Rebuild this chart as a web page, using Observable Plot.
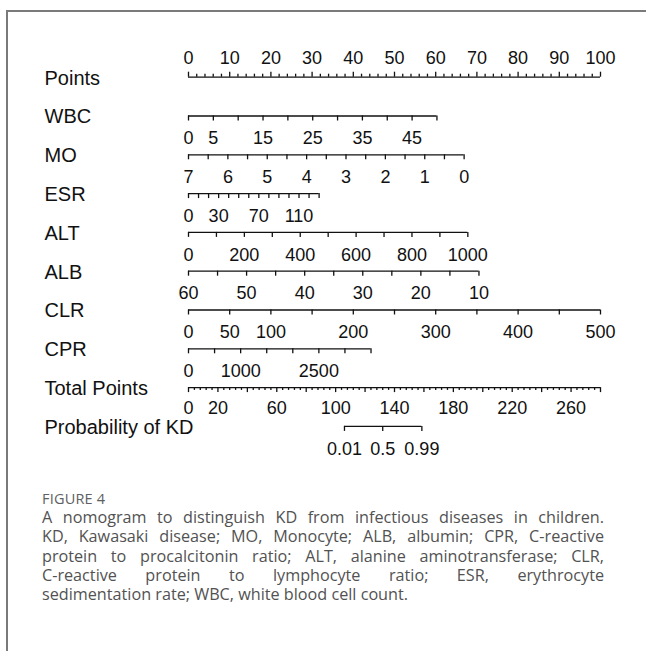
<!DOCTYPE html>
<html>
<head>
<meta charset="utf-8">
<script src="https://cdn.jsdelivr.net/npm/d3@7"></script>
<script src="https://cdn.jsdelivr.net/npm/@observablehq/plot@0.6"></script>
<style>
  html, body { margin: 0; padding: 0; background: #fff; }
  body { width: 646px; height: 651px; position: relative; overflow: hidden; }
  #chart svg { display: block; }
  .frame-top { position: absolute; left: 6px; top: 10px; width: 640px; height: 1.5px; background: #7a7a7a; }
  .frame-left { position: absolute; left: 6px; top: 10px; width: 1.5px; height: 641px; background: #7a7a7a; }
  .caption { margin-left: 42px; width: 562px; font-family: "Open Sans", sans-serif; color: #525252; }
  .caption .fig { font-size: 14.5px; line-height: 18px; margin-top: 20px; color: #606060; letter-spacing: 0.2px; }
  .caption .line { font-size: 16.2px; line-height: 19.3px; text-align: justify; text-align-last: justify; white-space: nowrap; }
  .caption .line:first-of-type { margin-top: 0.5px; }
  .caption .line.last { text-align-last: left; }
</style>
</head>
<body>
<div id="chart"></div>
<div class="caption">
  <div class="fig">FIGURE 4</div>
  <div class="line">A nomogram to distinguish KD from infectious diseases in children.</div>
  <div class="line">KD, Kawasaki disease; MO, Monocyte; ALB, albumin; CPR, C-reactive</div>
  <div class="line">protein to procalcitonin ratio; ALT, alanine aminotransferase; CLR,</div>
  <div class="line">C-reactive protein to lymphocyte ratio; ESR, erythrocyte</div>
  <div class="line last">sedimentation rate; WBC, white blood cell count.</div>
</div>
<div class="frame-top"></div>
<div class="frame-left"></div>
<script>
// Row names, top to bottom
const rowNames = ["Points", "WBC", "MO", "ESR", "ALT", "ALB", "CLR", "CPR", "Total Points", "Probability of KD"];

// Points scale (0–100)
const pointsDomain = [0, 100];
const pointsMajorTicks = [0, 10, 20, 30, 40, 50, 60, 70, 80, 90, 100];
const pointsLabels = [0, 10, 20, 30, 40, 50, 60, 70, 80, 90, 100];
const pointsMinorStep = 2;

// Predictors: value range, points at the two ends of that range, ticks, labels
const wbcDomain = [0, 50];
const wbcPoints = [0, 60.3];
const wbcTicks = [0, 5, 10, 15, 20, 25, 30, 35, 40, 45, 50];
const wbcLabels = [0, 5, 15, 25, 35, 45];

const moDomain = [7, 0];
const moPoints = [0, 66.9];
const moTicks = [7, 6.5, 6, 5.5, 5, 4.5, 4, 3.5, 3, 2.5, 2, 1.5, 1, 0.5, 0];
const moLabels = [7, 6, 5, 4, 3, 2, 1, 0];

const esrDomain = [0, 130];
const esrPoints = [0, 31.7];
const esrTicks = [0, 10, 20, 30, 40, 50, 60, 70, 80, 90, 100, 110, 120, 130];
const esrLabels = [0, 30, 70, 110];

const altDomain = [0, 1000];
const altPoints = [0, 67.8];
const altTicks = [0, 100, 200, 300, 400, 500, 600, 700, 800, 900, 1000];
const altLabels = [0, 200, 400, 600, 800, 1000];

const albDomain = [60, 10];
const albPoints = [0, 70.5];
const albTicks = [60, 55, 50, 45, 40, 35, 30, 25, 20, 15, 10];
const albLabels = [60, 50, 40, 30, 20, 10];

const clrDomain = [0, 500];
const clrPoints = [0, 100];
const clrTicks = [0, 50, 100, 150, 200, 250, 300, 350, 400, 450, 500];
const clrLabels = [0, 50, 100, 200, 300, 400, 500];

const cprDomain = [0, 3500];
const cprPoints = [0, 44.3];
const cprTicks = [0, 500, 1000, 1500, 2000, 2500, 3000, 3500];
const cprLabels = [0, 1000, 2500];

// Total points scale (0–280 spans the full points width)
const totalDomain = [0, 280];
const totalMajorTicks = [0, 20, 40, 60, 80, 100, 120, 140, 160, 180, 200, 220, 240, 260, 280];
const totalLabels = [0, 20, 60, 100, 140, 180, 220, 260];
const totalMinorStep = 4;

// Probability of KD and the total points at which each value is reached
const probLabels = [0.01, 0.5, 0.99];
const probTotals = [106, 132, 158.6];

// ---- build the tick/line tables ----
const rowStepPx = (425.9 - 76.7) / 9;       // pixels between rows
const len = px => px / rowStepPx;            // tick length in row units

const toPoints = d3.scaleLinear(totalDomain, pointsDomain);

const predictors = [
  {row: 1, domain: wbcDomain, points: wbcPoints, ticks: wbcTicks, labels: wbcLabels},
  {row: 2, domain: moDomain, points: moPoints, ticks: moTicks, labels: moLabels},
  {row: 3, domain: esrDomain, points: esrPoints, ticks: esrTicks, labels: esrLabels},
  {row: 4, domain: altDomain, points: altPoints, ticks: altTicks, labels: altLabels},
  {row: 5, domain: albDomain, points: albPoints, ticks: albTicks, labels: albLabels},
  {row: 6, domain: clrDomain, points: clrPoints, ticks: clrTicks, labels: clrLabels},
  {row: 7, domain: cprDomain, points: cprPoints, ticks: cprTicks, labels: cprLabels}
];

const lines = [];
const ticks = [];
const labelsAbove = [];   // Points row
const labelsBelow = [];   // predictor and probability rows
const labelsTotal = [];   // Total Points row

// Points row (ticks pointing up, labels above)
lines.push({row: 0, x1: pointsDomain[0], x2: pointsDomain[1]});
d3.range(pointsDomain[0], pointsDomain[1] + 1e-9, pointsMinorStep).forEach(v => {
  const major = pointsMajorTicks.includes(v);
  ticks.push({x: v, y1: 0, y2: -len(major ? 5 : 3)});
});
pointsLabels.forEach(v => labelsAbove.push({x: v, row: 0, text: String(v)}));

// Predictor rows
predictors.forEach(p => {
  const s = d3.scaleLinear(p.domain, p.points);
  lines.push({row: p.row, x1: s(p.domain[0]), x2: s(p.domain[1])});
  p.ticks.forEach(v => ticks.push({x: s(v), y1: p.row, y2: p.row + len(5)}));
  p.labels.forEach(v => labelsBelow.push({x: s(v), row: p.row, text: String(v)}));
});

// Total points row
lines.push({row: 8, x1: toPoints(totalDomain[0]), x2: toPoints(totalDomain[1])});
d3.range(totalDomain[0], totalDomain[1] + 1e-9, totalMinorStep).forEach(v => {
  const major = totalMajorTicks.includes(v);
  ticks.push({x: toPoints(v), y1: 8, y2: 8 + len(major ? 5 : 2.8)});
});
totalLabels.forEach(v => labelsTotal.push({x: toPoints(v), row: 8, text: String(v)}));

// Probability row
lines.push({row: 9, x1: toPoints(probTotals[0]), x2: toPoints(probTotals[probTotals.length - 1])});
probTotals.forEach((t, i) => {
  ticks.push({x: toPoints(t), y1: 9, y2: 9 + len(5)});
  labelsBelow.push({x: toPoints(t), row: 9, text: String(probLabels[i])});
});

const tickText = {x: "x", y: "row", text: "text", fontSize: 18, fill: "#111"};

const chart = Plot.plot({
  width: 646,
  height: 470,
  marginLeft: 188,
  marginRight: 46,
  marginTop: 0,
  marginBottom: 0,
  x: {domain: pointsDomain, axis: null},
  y: {domain: [0, 9], range: [76.7, 425.9], axis: null},
  style: {fontFamily: "'Liberation Sans', Arial, sans-serif", background: "#fff", color: "#111"},
  marks: [
    Plot.ruleY(lines, {y: "row", x1: "x1", x2: "x2", stroke: "#111", strokeWidth: 1.3}),
    Plot.ruleX(ticks, {x: "x", y1: "y1", y2: "y2", stroke: "#111", strokeWidth: 1.3}),
    Plot.text(labelsAbove, {...tickText, dy: -18.5}),
    Plot.text(labelsBelow, {...tickText, dy: 22.5}),
    Plot.text(labelsTotal, {...tickText, dy: 20.5}),
    Plot.text(rowNames, {y: (d, i) => i, text: d => d, frameAnchor: "left", dx: -144, dy: 1,
      textAnchor: "start", fontSize: 20, fill: "#111"})
  ]
});

document.getElementById("chart").appendChild(chart);
</script>
</body>
</html>
